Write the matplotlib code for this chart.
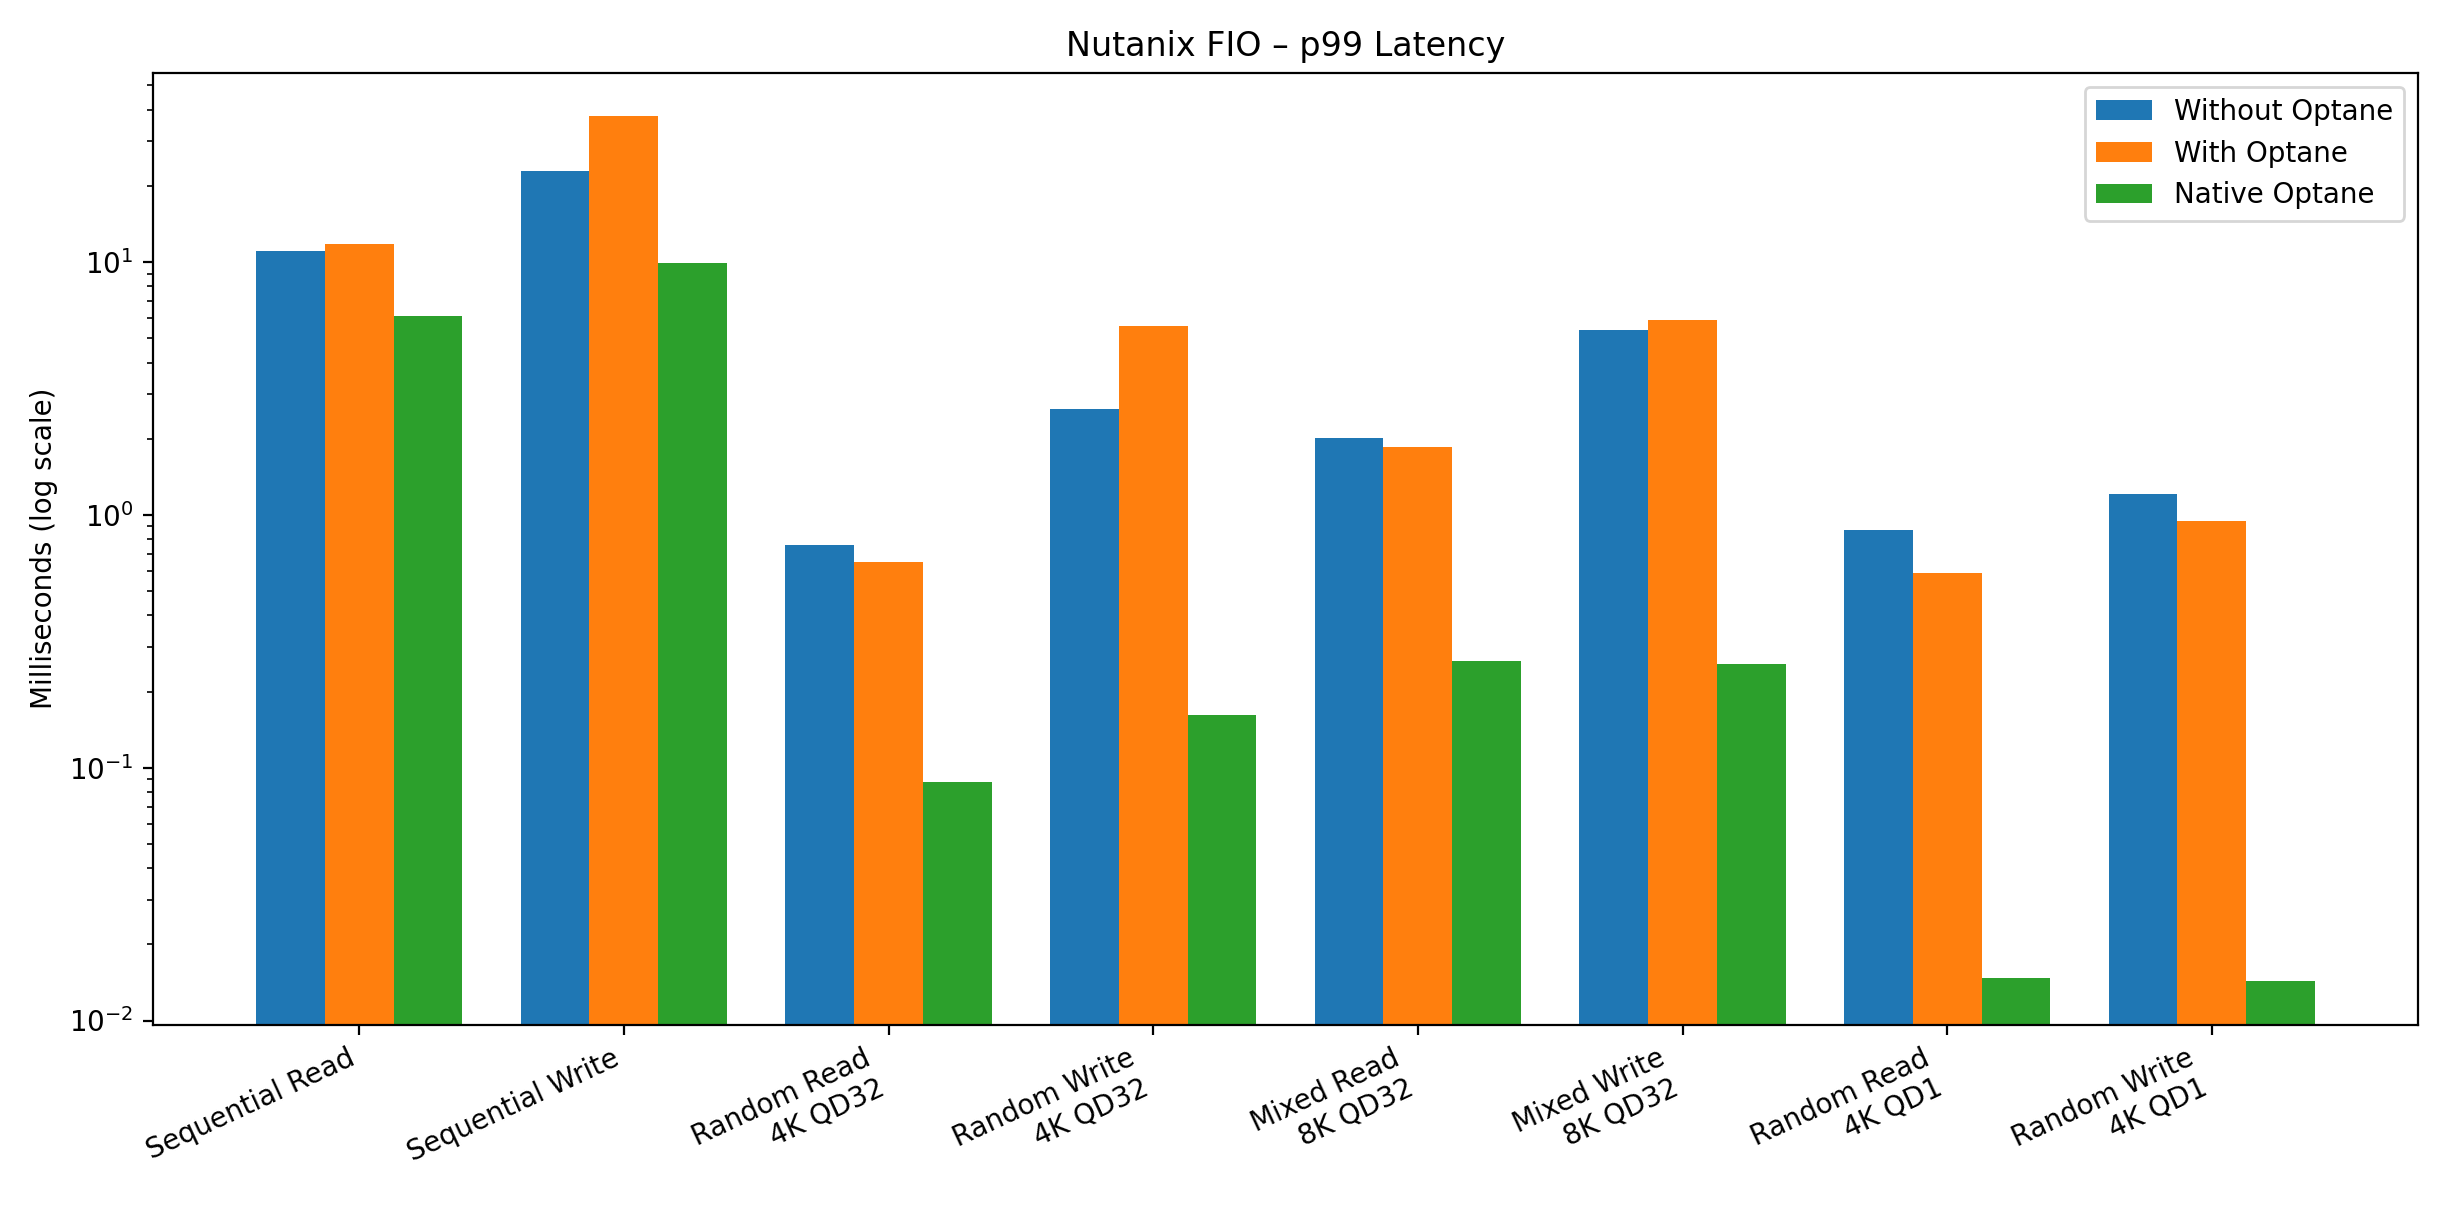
import numpy as np
import matplotlib.pyplot as plt

categories = ["Sequential Read", "Sequential Write", "Random Read\n4K QD32",
              "Random Write\n4K QD32", "Mixed Read\n8K QD32", "Mixed Write\n8K QD32",
              "Random Read\n4K QD1", "Random Write\n4K QD1"]
without_optane = [11.0, 22.8, 0.76, 2.61, 2.01, 5.4, 0.87, 1.21]
with_optane = [11.8, 37.8, 0.65, 5.6, 1.85, 5.9, 0.586, 0.946]
native_optane = [6.1, 9.9, 0.088, 0.161, 0.265, 0.258, 0.0147, 0.0143]

x = np.arange(len(categories))
w = 0.26

fig, ax = plt.subplots(figsize=(12.24, 6.06), dpi=200)
ax.bar(x - w, without_optane, w, label="Without Optane")
ax.bar(x, with_optane, w, label="With Optane")
ax.bar(x + w, native_optane, w, label="Native Optane")
ax.set_yscale("log")
ax.set_xticks(x)
ax.set_xticklabels(categories, rotation=25, ha="right")
ax.set_ylabel("Milliseconds (log scale)")
ax.set_title("Nutanix FIO – p99 Latency")
ax.legend(loc="upper right")
fig.tight_layout()
fig.savefig("out.png")
